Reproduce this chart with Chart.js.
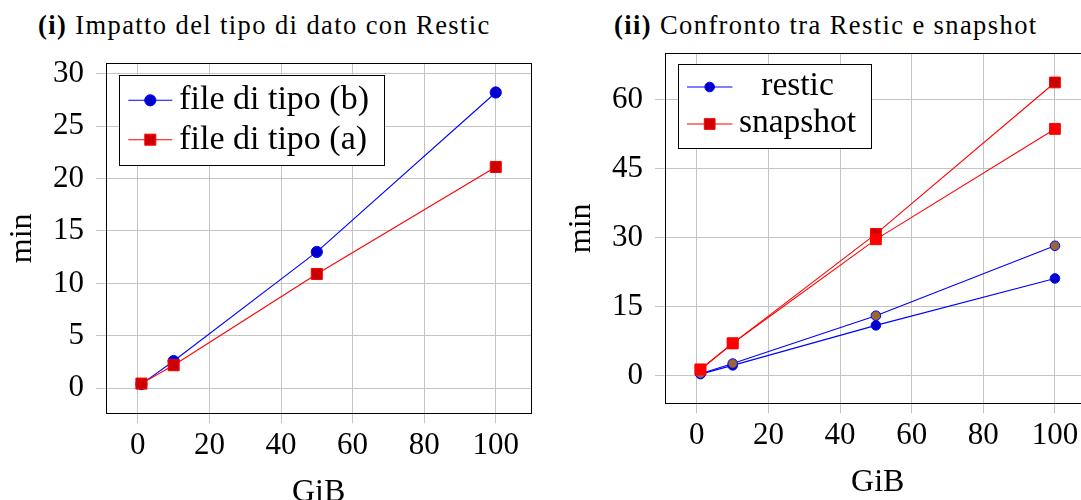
<!DOCTYPE html>
<html>
<head>
<meta charset="utf-8">
<script src="https://cdn.jsdelivr.net/npm/chart.js@4/dist/chart.umd.min.js"></script>
<style>
html,body{margin:0;padding:0;width:1081px;height:500px;overflow:hidden;background:#fff;position:relative}
canvas{position:absolute}
.title{position:absolute;top:11.5px;font-family:"Liberation Serif",serif;font-size:26.5px;line-height:1;letter-spacing:1.4px;white-space:nowrap;color:#000}
</style>
</head>
<body>
<div class="title" style="left:38px"><b>(i)</b> Impatto del tipo di dato con Restic</div>
<div class="title" style="left:614px"><b>(ii)</b> Confronto tra Restic e snapshot</div>
<canvas id="c1" width="540" height="520" style="left:0;top:0"></canvas>
<canvas id="c2" width="541" height="520" style="left:559px;top:-10px"></canvas>
<script>
// ---- data ----
const gib = [1, 10, 50, 100];
const xTicks = [0, 20, 40, 60, 80, 100];
const yTicksLeft = [0, 5, 10, 15, 20, 25, 30];
const yTicksRight = [0, 15, 30, 45, 60];
const tipoB = [0.4, 2.6, 13.0, 28.2];
const tipoA = [0.45, 2.2, 10.9, 21.1];
const resticA = [0.3, 2.2, 10.9, 21.1];
const resticB = [0.4, 2.6, 13.0, 28.2];
const snapshotB = [1.3, 7.0, 30.8, 63.7];
const snapshotA = [1.3, 7.0, 29.6, 53.6];
const labelsLeft = ['file di tipo (b)', 'file di tipo (a)'];
const labelsRight = ['restic', 'snapshot'];
const xTitle = 'GiB';
const yTitle = 'min';

// ---- styling ----
const FAMILY = '"Liberation Serif", serif';
const GRID = '#c4c4c4';
const BLUE = '#0000ff', BLUEFILL = '#0000cc';
const RED = '#ff0000', REDFILL = '#cc0000';
const BROWN = '#9c6633';
const W_AREA = {L: 106, T: 63.3, R: 531.4, H: 520, B: 413.3};

const pts = ys => gib.map((x, i) => ({x, y: ys[i]}));
function enlarged(arrs) {
  const all = [].concat(...arrs);
  const mn = Math.min(...all), mx = Math.max(...all);
  const d = (mx - mn) * 0.1;
  return [mn - d, mx + d];
}
function ds(ys, line, fill, style, order, size, legendLabel) {
  const r = style === 'rect' ? size.sq : size.ci;
  return {
    data: pts(ys), borderColor: line, backgroundColor: fill, borderWidth: 1.1,
    pointStyle: style, pointRadius: r, pointHoverRadius: r,
    pointBorderColor: line, pointBackgroundColor: fill, pointBorderWidth: 1,
    tension: 0, fill: false, order, legendLabel
  };
}

const frame = {
  id: 'frame',
  afterDatasetsDraw(chart) {
    const {ctx, chartArea: a} = chart;
    ctx.save();
    ctx.strokeStyle = '#000'; ctx.lineWidth = 1;
    ctx.strokeRect(Math.round(a.left) + 0.5, Math.round(a.top) + 0.5, Math.round(a.right - a.left), Math.round(a.bottom - a.top));
    ctx.restore();
  }
};
const boxLegend = {
  id: 'boxLegend',
  afterDraw(chart, args, o) {
    const {ctx, chartArea: a} = chart;
    const items = chart.data.datasets.filter(d => d.legendLabel);
    ctx.save();
    ctx.font = o.size + 'px ' + FAMILY;
    const tw = Math.max(...items.map(d => ctx.measureText(d.legendLabel).width));
    const x0 = a.left + o.dx, y0 = a.top + o.dy;
    const w = o.padL + o.sampleW + o.gap + tw + o.padR;
    const h = o.firstRow + o.rowH * (items.length - 1) + o.padB;
    ctx.fillStyle = '#fff';
    ctx.fillRect(x0, y0, w, h);
    ctx.strokeStyle = '#000'; ctx.lineWidth = 1;
    ctx.strokeRect(Math.round(x0) + 0.5, Math.round(y0) + 0.5, Math.round(w), Math.round(h));
    items.forEach((d, i) => {
      const cy = y0 + o.firstRow + i * o.rowH;
      const sx = x0 + o.padL;
      ctx.strokeStyle = d.borderColor; ctx.lineWidth = d.borderWidth;
      ctx.beginPath(); ctx.moveTo(sx, cy); ctx.lineTo(sx + o.sampleW, cy); ctx.stroke();
      const mx = sx + o.sampleW / 2;
      ctx.fillStyle = d.pointBackgroundColor; ctx.strokeStyle = d.pointBorderColor; ctx.lineWidth = d.pointBorderWidth;
      ctx.beginPath();
      if (d.pointStyle === 'rect') {
        const s = d.pointRadius * Math.SQRT1_2;
        ctx.rect(mx - s, cy - s, 2 * s, 2 * s);
      } else {
        ctx.arc(mx, cy, d.pointRadius, 0, Math.PI * 2);
      }
      ctx.fill(); ctx.stroke();
      ctx.fillStyle = '#000';
      ctx.textBaseline = 'alphabetic';
      const tx = sx + o.sampleW + o.gap;
      if (o.align === 'center') { ctx.textAlign = 'center'; ctx.fillText(d.legendLabel, tx + tw / 2, cy + o.baseOff); }
      else { ctx.textAlign = 'left'; ctx.fillText(d.legendLabel, tx, cy + o.baseOff); }
    });
    ctx.restore();
  }
};

function makeChart(id, canvasW, datasets, yRange, yTicks, ytPad, legendOpts) {
  const xr = enlarged([gib]);
  return new Chart(document.getElementById(id), {
    type: 'line',
    data: {datasets},
    plugins: [frame, boxLegend],
    options: {
      responsive: false, maintainAspectRatio: false, animation: false, devicePixelRatio: 1, events: [],
      layout: {padding: {left: 0, top: W_AREA.T, right: canvasW - W_AREA.R, bottom: 0}},
      plugins: {legend: {display: false}, tooltip: {enabled: false}, boxLegend: legendOpts},
      scales: {
        x: {
          type: 'linear', min: xr[0], max: xr[1],
          afterBuildTicks: s => { s.ticks = xTicks.map(v => ({value: v})); },
          afterFit: s => { s.height = W_AREA.H - W_AREA.B; },
          grid: {color: GRID, lineWidth: 1, tickLength: 10, tickColor: GRID, drawTicks: true},
          border: {display: false},
          ticks: {font: {family: FAMILY, size: 31}, color: '#000', padding: 3.6, maxRotation: 0, autoSkip: false},
          title: {display: true, text: xTitle, font: {family: FAMILY, size: 32}, color: '#000', padding: {top: 0, bottom: 7.8}}
        },
        y: {
          type: 'linear', min: yRange[0], max: yRange[1],
          afterBuildTicks: s => { s.ticks = yTicks.map(v => ({value: v})); },
          afterFit: s => { s.width = W_AREA.L; },
          grid: {color: GRID, lineWidth: 1, tickLength: 10, tickColor: GRID, drawTicks: true},
          border: {display: false},
          ticks: {font: {family: FAMILY, size: 31}, color: '#000', padding: 12, autoSkip: false},
          title: {display: true, text: yTitle, font: {family: FAMILY, size: 32}, color: '#000', padding: {top: ytPad, bottom: 0}}
        }
      }
    }
  });
}

const sizeLeft = {ci: 5.6, sq: 7.8};
const sizeRight = {ci: 4.8, sq: 7.6};

makeChart('c1', 540, [
  ds(tipoB, BLUE, BLUEFILL, 'circle', 2, sizeLeft, labelsLeft[0]),
  ds(tipoA, RED, REDFILL, 'rect', 1, sizeLeft, labelsLeft[1])
], enlarged([tipoB, tipoA]), yTicksLeft, 3,
  {size: 34, dx: 13.3, dy: 11.4, padL: 9, sampleW: 44, gap: 6.9, padR: 15.3, firstRow: 25.6, rowH: 39.4, padB: 25.3, baseOff: 9, align: 'left'});

makeChart('c2', 541, [
  ds(resticA, BLUE, BLUEFILL, 'circle', 4, sizeRight, labelsRight[0]),
  ds(snapshotB, RED, REDFILL, 'rect', 3, sizeRight, labelsRight[1]),
  ds(resticB, BLUE, BROWN, 'circle', 2, sizeRight),
  ds(snapshotA, RED, RED, 'rect', 1, sizeRight)
], enlarged([resticA, resticB, snapshotA, snapshotB]), yTicksRight, 3,
  {size: 33.5, dx: 13.4, dy: 10.7, padL: 8.6, sampleW: 45.4, gap: 6.5, padR: 15.6, firstRow: 23, rowH: 37, padB: 23.7, baseOff: 8, align: 'center'});
</script>
</body>
</html>
